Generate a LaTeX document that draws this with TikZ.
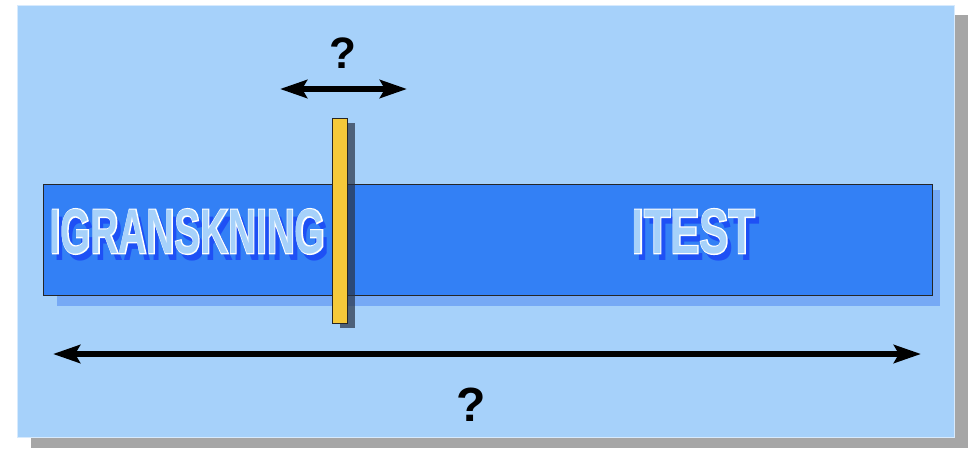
\documentclass[tikz,border=0pt]{standalone}
\usepackage{fontspec}
\setmainfont{Liberation Sans}
\newfontfamily\outlinefont[FakeBold=4]{Liberation Sans Bold}
\usetikzlibrary{arrows.meta}

\definecolor{panel}{HTML}{A6D1FA}
\definecolor{panelshadow}{HTML}{A6A6A6}
\definecolor{bar}{HTML}{3380F5}
\definecolor{barshadow}{HTML}{76A9F5}
\definecolor{gate}{HTML}{F5C93A}
\definecolor{gateshadow}{HTML}{283244}
\definecolor{lettershadow}{HTML}{1E50F5}

% one layer of a phase label, shifted right by #1 and up by #2 (pt)
\newcommand{\wordlayer}[3]{\rlap{\kern#1pt\raisebox{#2pt}{#3}}}

% phase label: condensed bold caps scaled to #1 x 44pt, with blue drop
% shadow, white stroked outline and pale fill, stacked inside one box
\newcommand{\phaseword}[2]{%
  \wordlayer{5}{-7}{\color{lettershadow}\resizebox{#1pt}{44pt}{\bfseries #2}}%
  \wordlayer{0}{0}{\color{white}\resizebox{#1pt}{44pt}{\outlinefont #2}}%
  {\color{panel}\resizebox{#1pt}{44pt}{\bfseries #2}}}

\tikzset{
  word/.style={inner sep=0pt, outer sep=0pt},
  dblarrow/.style={line width=6pt, {Stealth[length=27pt,width=18pt,inset=5pt]}-{Stealth[length=27pt,width=18pt,inset=5pt]}},
  qmark/.style={inner sep=0pt, font=\fontsize{44}{44}\selectfont\bfseries, text=black},
}

\begin{document}
\begin{tikzpicture}[x=1pt, y=-1pt]
  \useasboundingbox (0,0) rectangle (970,448);

  % slide panel and its shadow
  \fill[panelshadow] (31,15) rectangle (968,448);
  \fill[panel] (17,5) rectangle (955,438);
  \draw[white!55!panel, line width=0.8pt] (17.4,5.4) rectangle (954.6,437.6);

  % process bar
  \fill[barshadow] (57,190) rectangle (940,306);
  \node[draw=black!85, line width=0.8pt, fill=bar, inner sep=0pt, minimum width=889pt, minimum height=111pt, anchor=north west] (bar) at (43,184) {};

  % phase labels
  \node[word] (igr) at (187.5,235) {\phaseword{275}{IGRANSKNING}};
  \node[word] (itest) at (693.5,235) {\phaseword{123}{ITEST}};

  % movable gate
  \fill[gateshadow, opacity=0.7] (340,123) rectangle (355,328);
  \node[draw=black!85, line width=0.8pt, fill=gate, inner sep=0pt, minimum width=15pt, minimum height=205pt, anchor=north west] (gate) at (332,118) {};

  % arrows and question marks
  \coordinate (topL) at (280,89);
  \coordinate (topR) at (407,89);
  \draw[dblarrow] (topL) -- (topR);
  \node[qmark] (qtop) at (343,53) {?};

  \coordinate (botL) at (53,354);
  \coordinate (botR) at (921,354);
  \draw[dblarrow] (botL) -- (botR);
  \node[qmark, font=\fontsize{48}{48}\selectfont\bfseries] (qbot) at (471,405) {?};
\end{tikzpicture}
\end{document}
